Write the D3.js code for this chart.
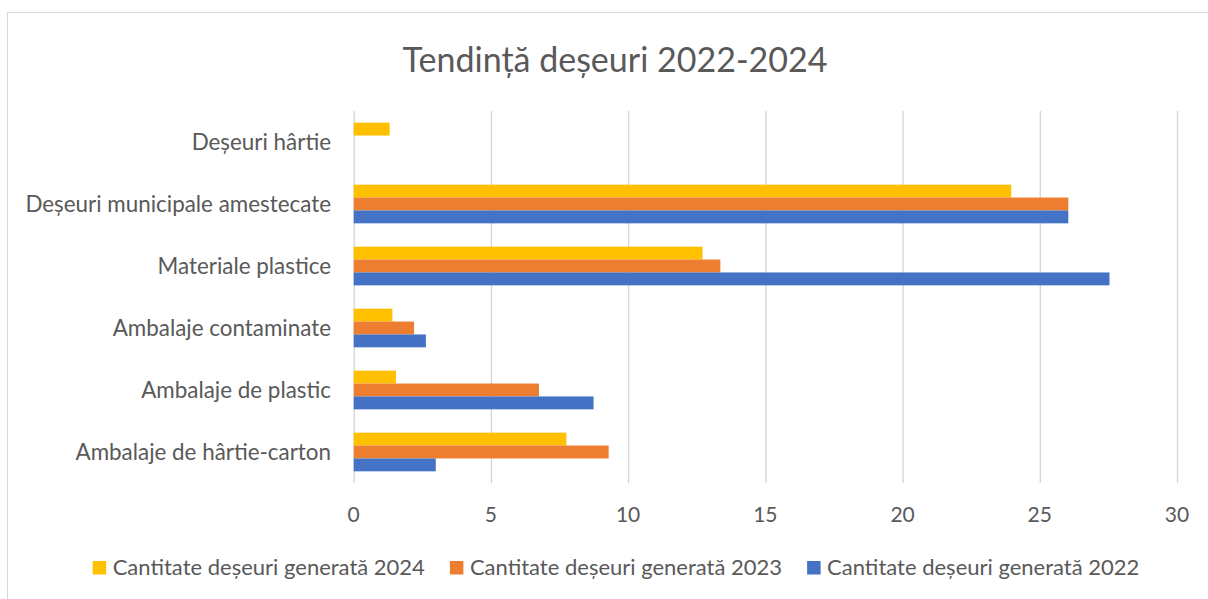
<!DOCTYPE html>
<html>
<head>
<meta charset="utf-8">
<script src="https://cdn.jsdelivr.net/npm/d3@7"></script>
<style>
  html, body { margin: 0; padding: 0; background: #fff; }
  svg { display: block; }
  text { font-family: "Lato", "Liberation Sans", sans-serif; fill: #595959; }
</style>
</head>
<body>
<svg id="chart" width="1208" height="599"></svg>
<script>
const title = "Tendință deșeuri 2022-2024";
const categories = [
  "Deșeuri hârtie",
  "Deșeuri municipale amestecate",
  "Materiale plastice",
  "Ambalaje contaminate",
  "Ambalaje de plastic",
  "Ambalaje de hârtie-carton"
];
const seriesNames = [
  "Cantitate deșeuri generată 2024",
  "Cantitate deșeuri generată 2023",
  "Cantitate deșeuri generată 2022"
];
const values2024 = [1.31, 23.96, 12.71, 1.41, 1.54, 7.75];
const values2023 = [0, 26.04, 13.36, 2.20, 6.75, 9.29];
const values2022 = [0, 26.04, 27.54, 2.63, 8.74, 2.99];
const seriesColors = ["#FFC000", "#ED7D31", "#4472C4"];
const xTicks = [0, 5, 10, 15, 20, 25, 30];

const seriesValues = [values2024, values2023, values2022];

const svg = d3.select("#chart");

// outer chart border
svg.append("rect")
  .attr("x", 7.5).attr("y", 12.5)
  .attr("width", 1240).attr("height", 640)
  .attr("fill", "none").attr("stroke", "#d9d9d9").attr("stroke-width", 1);

const plot = { left: 353.7, right: 1177, top: 111, bottom: 483 };

const x = d3.scaleLinear().domain([0, 30]).range([plot.left, plot.right]);
const y = d3.scaleBand().domain(categories).range([plot.top, plot.bottom])
  .paddingInner(0.376).paddingOuter(0.188);
const ySub = d3.scaleBand().domain(d3.range(seriesNames.length)).range([0, y.bandwidth()]);

// gridlines
const xAxis = d3.axisBottom(x).tickValues(xTicks).tickSize(-(plot.bottom - plot.top)).tickPadding(0).tickFormat("");
const gx = svg.append("g").attr("transform", `translate(0,${plot.bottom})`).call(xAxis);
gx.select(".domain").remove();
gx.selectAll(".tick line").attr("stroke", "#d4d4d4").attr("stroke-width", 1.3);

// tick labels
svg.append("g").selectAll("text").data(xTicks).join("text")
  .attr("x", d => x(d)).attr("y", 522)
  .attr("text-anchor", "middle")
  .style("font-size", "21px")
  .text(d => d);

// bars
const groups = svg.append("g").selectAll("g").data(categories).join("g")
  .attr("transform", d => `translate(0,${y(d)})`);
groups.selectAll("rect")
  .data((c, ci) => seriesValues.map((vals, si) => ({ si, v: vals[ci] })))
  .join("rect")
  .attr("x", x(0))
  .attr("y", d => ySub(d.si))
  .attr("width", d => x(d.v) - x(0))
  .attr("height", ySub.bandwidth())
  .attr("fill", d => seriesColors[d.si]);

// category labels
svg.append("g").selectAll("text").data(categories).join("text")
  .attr("x", 331)
  .attr("y", d => y(d) + y.bandwidth() / 2 + 7.5)
  .attr("text-anchor", "end")
  .style("font-size", "22.4px")
  .text(d => d);

// title
svg.append("text")
  .attr("x", 615).attr("y", 72)
  .attr("text-anchor", "middle")
  .style("font-size", "34px")
  .text(title);

// legend
const legend = svg.append("g");
const items = legend.selectAll("g").data(seriesNames).join("g");
items.append("rect").attr("width", 13.5).attr("height", 13.5).attr("y", -14)
  .attr("fill", (d, i) => seriesColors[i]);
items.append("text").attr("x", 20).attr("y", 0).style("font-size", "22px").text(d => d);
let offset = 0;
items.each(function () {
  const g = d3.select(this);
  const w = 20 + g.select("text").node().getComputedTextLength();
  g.attr("transform", `translate(${offset},575)`);
  offset += w + 25;
});
const legendWidth = offset - 25;
legend.attr("transform", `translate(${616 - legendWidth / 2},0)`);
</script>
</body>
</html>
